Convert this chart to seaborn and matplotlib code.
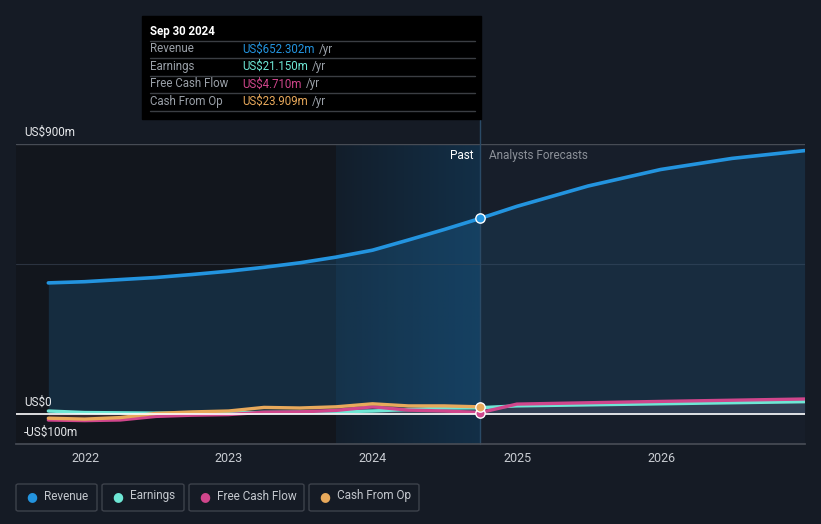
import numpy as np
import pandas as pd
import matplotlib
matplotlib.use('Agg')
import matplotlib.pyplot as plt
import matplotlib.dates as mdates
from matplotlib.patches import Rectangle, FancyBboxPatch
from matplotlib.colors import LinearSegmentedColormap
from matplotlib.text import Annotation
import seaborn as sns

# Data (US$ millions)
past_dates = pd.date_range('2021-09-30', '2024-09-30', freq='QE')
revenue_past = [437, 441, 448, 455, 465, 476, 489, 504, 523, 546, 580, 615, 652.302]
earnings_past = [10, 5, 4, 3, 3, 4, 5, 6, 7, 10, 15, 20, 21.15]
fcf_past = [-20, -22, -20, -8, -4, -2, 6, 7, 12, 24, 13, 10, 4.71]
cfo_past = [-14, -17, -12, 2, 7, 10, 22, 20, 24, 34, 27, 27, 23.909]

rev_fc_dates = pd.to_datetime(['2024-09-30', '2024-12-31', '2025-06-30', '2025-12-31', '2026-06-30', '2026-12-31'])
revenue_fc = [652.302, 692, 760, 815, 852, 878]
small_fc_dates = pd.to_datetime(['2024-09-30', '2024-12-31', '2025-12-31', '2026-12-31'])
earnings_fc = [21.15, 27, 34, 41]
fcf_fc = [4.71, 33, 42, 50]

years = [2022, 2023, 2024, 2025, 2026]
now = pd.Timestamp('2024-09-30')
year_ago = pd.Timestamp('2023-09-30')

C_REV, C_EARN, C_FCF, C_CFO = '#2394df', '#6ee7d5', '#d0468c', '#e8a95b'
BG = '#151b25'

sns.set_theme(style='dark')
plt.rcParams['font.family'] = ['Roboto', 'DejaVu Sans']

W, H = 821, 524
fig = plt.figure(figsize=(W / 100, H / 100), dpi=100, facecolor=BG)
def fx(px): return px / W
def fy(py): return 1 - py / H

ax = fig.add_axes([fx(16), fy(444), fx(805) - fx(16), fy(144) - fy(444)])
ax.set_facecolor('#171e2a')
xmin, xmax = pd.Timestamp('2021-07-10'), pd.Timestamp('2027-01-01')

# background regions
ax.axvspan(xmin, year_ago, color='#12161d', zorder=0, lw=0)
grad = np.linspace(0, 1, 100).reshape(1, -1)
cmap = LinearSegmentedColormap.from_list('hl', ['#121e2b', '#122f47'])
ax.imshow(grad, extent=[mdates.date2num(year_ago), mdates.date2num(now), -100, 900],
          aspect='auto', cmap=cmap, zorder=0.5)
ax.set_xlim(xmin, xmax)
ax.set_ylim(-100, 900)

# grid lines
ax.axhline(900, color='#474c55', lw=1, zorder=1)
ax.axhline(500, color='#2b3340', lw=0.8, zorder=1)
ax.axhline(0, color='#ffffff', lw=1.2, zorder=4)

# fills
ax.fill_between(past_dates, revenue_past, 0, color=C_REV, alpha=0.18, lw=0, zorder=1)
ax.fill_between(rev_fc_dates, revenue_fc, 0, color=C_REV, alpha=0.12, lw=0, zorder=1)
for d, v, c in [(past_dates, earnings_past, C_EARN), (past_dates, fcf_past, C_FCF),
                (past_dates, cfo_past, C_CFO), (small_fc_dates, earnings_fc, C_EARN),
                (small_fc_dates, fcf_fc, C_FCF)]:
    ax.fill_between(d, v, 0, color=c, alpha=0.10, lw=0, zorder=1)

# lines
df_past = pd.DataFrame({'date': past_dates, 'Revenue': revenue_past, 'Earnings': earnings_past,
                        'Free Cash Flow': fcf_past, 'Cash From Op': cfo_past})
sns.lineplot(data=df_past, x='date', y='Earnings', color=C_EARN, lw=2.4, ax=ax, zorder=3)
sns.lineplot(data=df_past, x='date', y='Free Cash Flow', color=C_FCF, lw=2.4, ax=ax, zorder=3)
sns.lineplot(data=df_past, x='date', y='Cash From Op', color=C_CFO, lw=2.4, ax=ax, zorder=3)
sns.lineplot(data=df_past, x='date', y='Revenue', color=C_REV, lw=2.6, ax=ax, zorder=3)
sns.lineplot(x=small_fc_dates, y=earnings_fc, color=C_EARN, lw=2.4, ax=ax, zorder=3)
sns.lineplot(x=small_fc_dates, y=fcf_fc, color=C_FCF, lw=2.4, ax=ax, zorder=3)
sns.lineplot(x=rev_fc_dates, y=revenue_fc, color=C_REV, lw=2.6, ax=ax, zorder=3)

# markers at the current point
for v, c in [(revenue_past[-1], C_REV), (fcf_past[-1], C_FCF), (cfo_past[-1], C_CFO)]:
    ax.scatter([now], [v], s=45, color=c, edgecolor='white', linewidth=1, zorder=6)

ax.axvline(now, ymin=0, ymax=1.08, color='#2a4a66', lw=1, clip_on=False, zorder=2)

# axes styling
for s in ax.spines.values():
    s.set_visible(False)
ax.spines['bottom'].set_visible(True)
ax.spines['bottom'].set_color('#474c55')
ax.set_xticks([pd.Timestamp(f'{y}-01-01') for y in years])
ax.set_xticklabels([str(y) for y in years])
ax.tick_params(axis='x', colors='#c8ccd2', labelsize=9, length=4, width=1, color='#474c55', pad=2)
ax.set_yticks([])
ax.set_xlabel('')
ax.set_ylabel('')
ax.grid(False)

# y labels
for txt, py in [('US$900m', 132), ('US$0', 402), ('-US$100m', 432)]:
    fig.text(fx(24), fy(py), txt, color='#e6e8eb', fontsize=8.5, va='center', ha='left')

fig.text(fx(473), fy(156), 'Past', color='#ffffff', fontsize=8.5, va='center', ha='right')
fig.text(fx(489), fy(156), 'Analysts Forecasts', color='#8b9098', fontsize=8.5, va='center', ha='left')

# tooltip
fig.patches.append(Rectangle((fx(142), fy(119)), fx(481) - fx(142), fy(16) - fy(119),
                             transform=fig.transFigure, color='#000000', zorder=10))
fig.text(fx(150), fy(31), 'Sep 30 2024', color='#ffffff', fontsize=8.3, fontweight='bold',
         va='center', ha='left', zorder=11)
for py in [41, 58, 76, 93, 111]:
    fig.lines.append(plt.Line2D([fx(150), fx(475)], [fy(py), fy(py)], transform=fig.transFigure,
                                color='#3b3e43', lw=1, zorder=11))
rows = [('Revenue', 'US$652.302m', C_REV, 49),
        ('Earnings', 'US$21.150m', C_EARN, 66.5),
        ('Free Cash Flow', 'US$4.710m', C_FCF, 84),
        ('Cash From Op', 'US$23.909m', C_CFO, 101)]
for lab, val, c, py in rows:
    fig.text(fx(150), fy(py), lab, color='#9aa0a8', fontsize=8.3, va='center', ha='left', zorder=11)
    t = fig.text(fx(242), fy(py), val, color=c, fontsize=8.3, va='center', ha='left', zorder=11)
    ann = Annotation('/yr', xy=(1, 0.5), xycoords=t, xytext=(3, 0), textcoords='offset points',
                     color='#9aa0a8', fontsize=8.3, va='center', ha='left',
                     annotation_clip=False)
    ann.set_zorder(12)
    fig.add_artist(ann)

# legend boxes
legend = [('Revenue', C_REV, 16, 97, 32, 44),
          ('Earnings', C_EARN, 102, 184, 118, 130),
          ('Free Cash Flow', C_FCF, 189, 304, 205, 217),
          ('Cash From Op', C_CFO, 309, 419, 325, 337)]
for lab, c, x0, x1, dx, tx in legend:
    fig.patches.append(FancyBboxPatch((fx(x0), fy(511)), fx(x1) - fx(x0), fy(484) - fy(511),
                                      boxstyle='round,pad=0,rounding_size=0.003',
                                      transform=fig.transFigure, facecolor='none',
                                      edgecolor='#3d424b', lw=1))
    fig.text(fx(dx), fy(496.5), '●', color=c, fontsize=9, va='center', ha='center')
    fig.text(fx(tx), fy(496), lab, color='#c4c8ce', fontsize=8.5, va='center', ha='left')

fig.savefig('out.png', dpi=100, facecolor=BG)
